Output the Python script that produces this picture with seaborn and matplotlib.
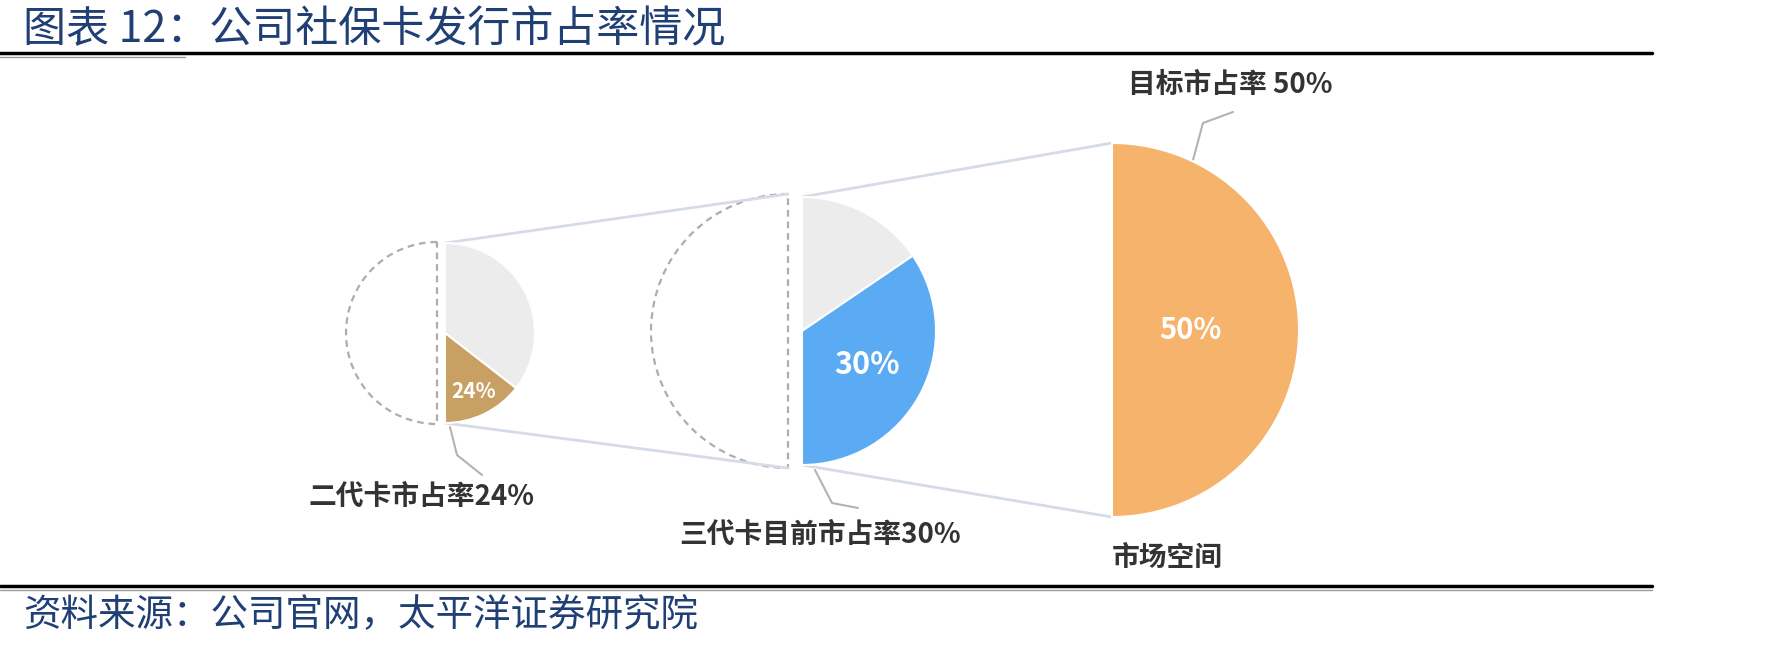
import matplotlib
matplotlib.use("Agg")
import matplotlib.pyplot as plt
import seaborn as sns

W, H = 1785, 647

# data
card_types = ["二代卡", "三代卡", "目标"]
shares = [24, 30, 50]
# coloured part of each drawn half disc (as it appears in the picture)
half_fill = [0.29, 0.69, 1.0]
callouts = ["二代卡市占率24%", "三代卡目前市占率30%", "目标市占率 50%"]
space_label = "市场空间"

title = "图表 12：公司社保卡发行市占率情况"
source = "资料来源：公司官网，太平洋证券研究院"

sns.set_theme(style="white")
plt.rcParams['font.family'] = ['Noto Sans CJK SC', 'DejaVu Sans']

colors = ["#c9a064", "#5aaaf4", "#f5b36c"]
grey = "#ececec"
dash_grey = "#adadad"
link_col = "#d5dce7"
lead_col = "#b3b3b3"
text_col = "#333333"
title_col = "#1f3f75"


def py(y):
    # pixel row -> data y
    return H - y


fig = plt.figure(figsize=(W / 100, H / 100), dpi=100)
ax = fig.add_axes([0, 0, 1, 1])

# layout in pixels: dashed centre x, right centre x, centre y, dashed r, right r
layout = [(437, 445, 333, 91, 90),
          (788, 802, 331, 137, 134),
          (None, 1112, 330, None, 187)]
pct_dist = [0.72, 0.55, 0.42]
pct_size = [15, 22, 21]

for i, (dx, rx, cy, dr, rr) in enumerate(layout):
    f = half_fill[i]
    if dx is not None:
        w, _ = ax.pie([0.5, 0.5], startangle=90, counterclock=True,
                      center=(dx, py(cy)), radius=dr, frame=True,
                      wedgeprops=dict(facecolor="none", edgecolor=dash_grey,
                                      linestyle=(0, (3, 2.2)), linewidth=1.6))
        w[1].set_visible(False)
    w, t = ax.pie([(1 - f) * 0.5, f * 0.5, 0.5], startangle=90, counterclock=False,
                  center=(rx, py(cy)), radius=rr, frame=True,
                  colors=[grey, colors[i], "white"],
                  labels=["", f"{shares[i]}%", ""], labeldistance=pct_dist[i],
                  wedgeprops=dict(edgecolor="white", linewidth=1.5),
                  textprops=dict(color="white", fontweight="bold", fontsize=pct_size[i],
                                 ha="center", va="center"))
    w[2].set_visible(False)
    for ww in w:
        ww.set_zorder(3)
    for tt in t:
        tt.set_zorder(4)

# connector lines between the discs
for a, b in [(0, 1), (1, 2)]:
    _, ax_r, ay, _, ar = layout[a]
    bx = layout[b][0] if layout[b][0] is not None else layout[b][1]
    by = layout[b][2]
    br = layout[b][3] if layout[b][3] is not None else layout[b][4]
    ax.plot([ax_r, bx], [py(ay - ar), py(by - br)], color=link_col, lw=2, zorder=1)
    ax.plot([ax_r, bx], [py(ay + ar), py(by + br)], color=link_col, lw=2, zorder=1)

# leader lines
leaders = [[(450, 427), (457, 455), (482, 475)],
           [(815, 470), (832, 503), (858, 508)],
           [(1193, 160), (1203, 123), (1233, 112)]]
for pts in leaders:
    ax.plot([p[0] for p in pts], [py(p[1]) for p in pts], color=lead_col, lw=1.5, zorder=2)

label_pos = [(421, 497), (820, 535), (1230, 85)]
for txt, (x, y) in zip(callouts, label_pos):
    ax.text(x, py(y), txt, ha="center", va="center", fontsize=20,
            fontweight="bold", color=text_col)
ax.text(1167, py(558), space_label, ha="center", va="center", fontsize=20,
        fontweight="bold", color=text_col)

# title, source and rules
ax.text(23, py(30), title, ha="left", va="center", fontsize=31, color=title_col)
ax.text(23, py(616), source, ha="left", va="center", fontsize=27, color=title_col,
        fontstyle="italic")
ax.plot([0, 1652], [py(53), py(53)], color="black", lw=2.5)
ax.plot([0, 185], [py(57), py(57)], color="#9a9a9a", lw=1)
ax.plot([0, 1652], [py(586), py(586)], color="black", lw=2.5)
ax.plot([0, 1652], [py(590), py(590)], color="#9a9a9a", lw=1)

ax.set_xlim(0, W)
ax.set_ylim(0, H)
ax.set_aspect("auto")
ax.axis("off")

fig.savefig("out.png", dpi=100)
